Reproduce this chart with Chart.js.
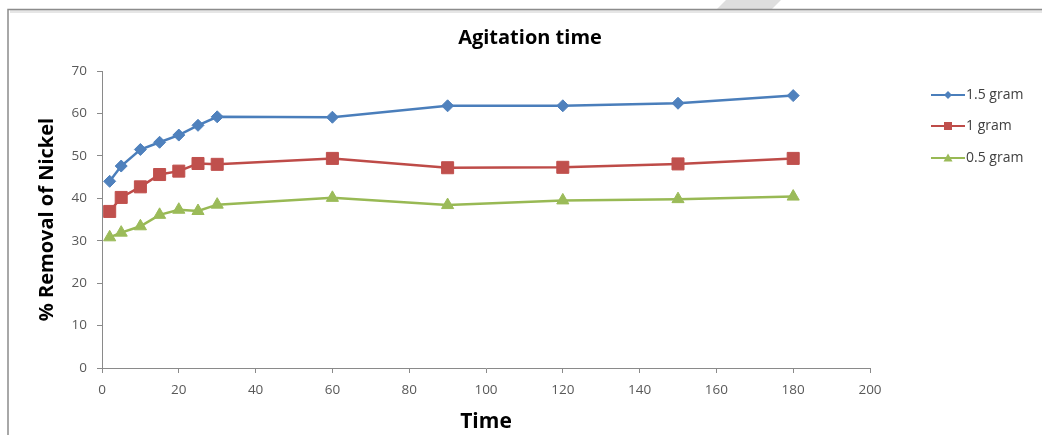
<!DOCTYPE html>
<html>
<head>
<meta charset="utf-8">
<title>Agitation time</title>
<script src="https://cdn.jsdelivr.net/npm/chart.js@4/dist/chart.umd.min.js"></script>
<style>
    html, body { margin: 0; padding: 0; background: #ffffff; }
    #chart { display: block; }
</style>
</head>
<body>

<canvas id="chart" width="1042" height="435"></canvas>

<script>

// Agitation time (min) against % removal of nickel, for three adsorbent doses

const times = [2, 5, 10, 15, 20, 25, 30, 60, 90, 120, 150, 180];

const gram15 = [44.0, 47.6, 51.5, 53.2, 54.9, 57.2, 59.2, 59.1, 61.8, 61.8, 62.4, 64.2];
const gram1 = [36.9, 40.2, 42.7, 45.6, 46.4, 48.2, 48.0, 49.4, 47.2, 47.3, 48.1, 49.4];
const gram05 = [30.8, 31.9, 33.4, 36.1, 37.3, 37.0, 38.5, 40.1, 38.4, 39.5, 39.8, 40.4];

const seriesNames = ["1.5 gram", "1 gram", "0.5 gram"];

const xTicks = [0, 20, 40, 60, 80, 100, 120, 140, 160, 180, 200];
const yTicks = [0, 10, 20, 30, 40, 50, 60, 70];


const FONT = "'Open Sans', 'Liberation Sans', sans-serif";
const AXIS_GREY = "#8a8a8a";
const LABEL_GREY = "#595959";


window.onload = function () {

    drawChart();

};



function points(values) {

    return values.map(function (v, i) {
        return { x: times[i], y: v };
    });

}



function marker(ctx, style, x, y, r, color) {

    ctx.save();
    ctx.fillStyle = color;
    ctx.beginPath();

    if (style === "rectRot") {
        ctx.moveTo(x, y - r);
        ctx.lineTo(x + r, y);
        ctx.lineTo(x, y + r);
        ctx.lineTo(x - r, y);
    } else if (style === "rect") {
        ctx.rect(x - r, y - r, 2 * r, 2 * r);
    } else {
        ctx.moveTo(x, y - r);
        ctx.lineTo(x + r, y + r * 0.8);
        ctx.lineTo(x - r, y + r * 0.8);
    }

    ctx.closePath();
    ctx.fill();
    ctx.restore();

}



// white page, frame edge and the grey tab at the top
const framePlugin = {

    id: "frame",

    beforeDraw: function (chart) {

        const ctx = chart.ctx;

        ctx.save();
        ctx.fillStyle = "#ffffff";
        ctx.fillRect(0, 0, chart.width, chart.height);

        ctx.fillStyle = "#dedede";
        ctx.beginPath();
        ctx.moveTo(726, 0);
        ctx.lineTo(781, 0);
        ctx.lineTo(772, 9);
        ctx.lineTo(717, 9);
        ctx.closePath();
        ctx.fill();

        ctx.strokeStyle = "#e6e6e6";
        ctx.lineWidth = 3;
        ctx.beginPath();
        ctx.moveTo(10, 11.5);
        ctx.lineTo(chart.width, 11.5);
        ctx.stroke();

        ctx.strokeStyle = "#8c8c8c";
        ctx.lineWidth = 1.5;
        ctx.beginPath();
        ctx.moveTo(8, chart.height);
        ctx.lineTo(8, 9.5);
        ctx.lineTo(chart.width, 9.5);
        ctx.stroke();

        ctx.restore();

    }

};



// legend on the right, a short line with the series marker in its middle
const sideLegend = {

    id: "sideLegend",

    afterDraw: function (chart) {

        const ctx = chart.ctx;
        const rows = [95, 126, 158];

        chart.data.datasets.forEach(function (ds, i) {

            const y = rows[i];

            ctx.save();
            ctx.strokeStyle = ds.borderColor;
            ctx.lineWidth = 2;
            ctx.beginPath();
            ctx.moveTo(931, y);
            ctx.lineTo(965, y);
            ctx.stroke();
            ctx.restore();

            marker(ctx, ds.pointStyle, 948, y, ds.legendRadius, ds.pointBackgroundColor);

            ctx.save();
            ctx.fillStyle = "#404040";
            ctx.font = "14px " + FONT;
            ctx.textAlign = "left";
            ctx.textBaseline = "middle";
            ctx.fillText(ds.label, 966, y);
            ctx.restore();

        });

    }

};



function drawChart() {

    const ctx = document.getElementById("chart").getContext("2d");

    new Chart(ctx, {

        type: "line",

        data: {

            datasets: [
                {
                    label: seriesNames[0],
                    data: points(gram15),
                    borderColor: "#4a7ebb",
                    backgroundColor: "#4f81bd",
                    pointBackgroundColor: "#4f81bd",
                    pointBorderColor: "#4f81bd",
                    pointStyle: "rectRot",
                    pointRadius: 6,
                    legendRadius: 4
                },
                {
                    label: seriesNames[1],
                    data: points(gram1),
                    borderColor: "#be4b48",
                    backgroundColor: "#c0504d",
                    pointBackgroundColor: "#c0504d",
                    pointBorderColor: "#c0504d",
                    pointStyle: "rect",
                    pointRadius: 8.5,
                    legendRadius: 4
                },
                {
                    label: seriesNames[2],
                    data: points(gram05),
                    borderColor: "#98b954",
                    backgroundColor: "#9bbb59",
                    pointBackgroundColor: "#9bbb59",
                    pointBorderColor: "#9bbb59",
                    pointStyle: "triangle",
                    pointRadius: 7,
                    legendRadius: 4.5
                }
            ]

        },

        options: {

            responsive: false,
            animation: false,
            devicePixelRatio: 1,

            elements: {
                line: { borderWidth: 2.5, tension: 0 },
                point: { borderWidth: 1 }
            },

            layout: {
                padding: { left: 18, right: 0, top: 0, bottom: 0 }
            },

            plugins: {

                legend: { display: false },
                tooltip: { enabled: false },

                title: {
                    display: true,
                    text: "Agitation time",
                    color: "#000000",
                    font: { family: FONT, size: 20, weight: "bold" },
                    padding: { top: 26, bottom: 21 }
                }

            },

            scales: {

                x: {
                    type: "linear",
                    min: xTicks[0],
                    max: xTicks[xTicks.length - 1],
                    afterBuildTicks: function (scale) {
                        scale.ticks = xTicks.map(function (v) { return { value: v }; });
                    },
                    afterFit: function (scale) {
                        scale.height = 67;
                    },
                    border: { display: true, color: AXIS_GREY, width: 1 },
                    grid: {
                        drawOnChartArea: false,
                        drawTicks: true,
                        tickLength: 5,
                        color: AXIS_GREY
                    },
                    ticks: {
                        color: LABEL_GREY,
                        font: { family: FONT, size: 13.5 },
                        padding: 9,
                        maxRotation: 0
                    },
                    title: {
                        display: true,
                        text: "Time",
                        color: "#000000",
                        font: { family: FONT, size: 21, weight: "bold" },
                        padding: { top: 0, bottom: 0 }
                    }
                },

                y: {
                    type: "linear",
                    min: yTicks[0],
                    max: yTicks[yTicks.length - 1],
                    afterBuildTicks: function (scale) {
                        scale.ticks = yTicks.map(function (v) { return { value: v }; });
                    },
                    afterFit: function (scale) {
                        scale.width = 84;
                    },
                    border: { display: true, color: AXIS_GREY, width: 1 },
                    grid: {
                        drawOnChartArea: false,
                        drawTicks: true,
                        tickLength: 5,
                        color: AXIS_GREY
                    },
                    ticks: {
                        color: LABEL_GREY,
                        font: { family: FONT, size: 13.5 },
                        padding: 10
                    },
                    title: {
                        display: true,
                        text: "% Removal of Nickel",
                        color: "#000000",
                        font: { family: FONT, size: 20, weight: "bold" },
                        padding: { top: 17, bottom: 0 }
                    }
                },

                // empty right-hand strip that holds the legend
                side: {
                    axis: "y",
                    position: "right",
                    display: true,
                    afterFit: function (scale) {
                        scale.width = 172;
                    },
                    border: { display: false },
                    grid: { display: false },
                    ticks: { display: false }
                }

            }

        },

        plugins: [framePlugin, sideLegend]

    });

}

</script>

</body>
</html>
